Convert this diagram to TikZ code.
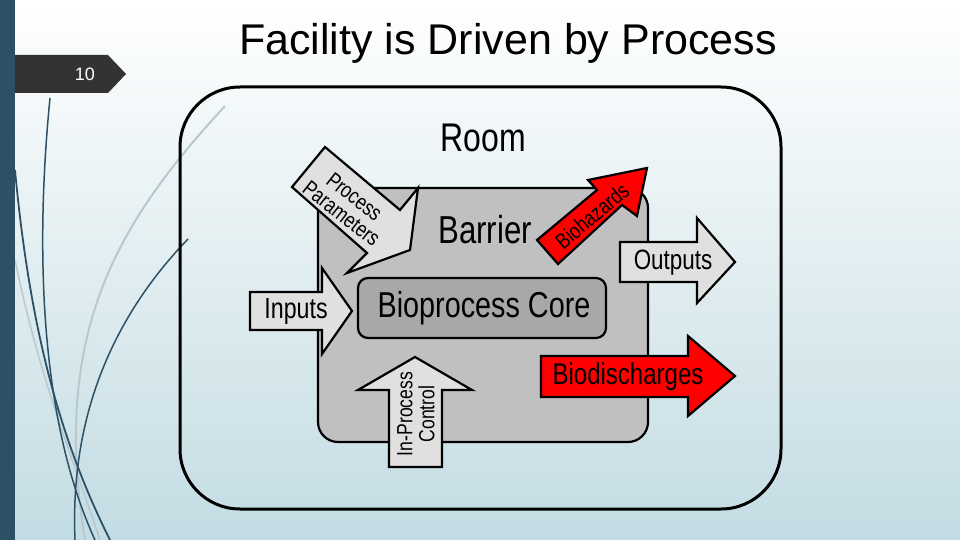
\documentclass[tikz,border=0pt]{standalone}
\usepackage{fontspec}
\setmainfont{Liberation Sans}
\newfontfamily\cond{Liberation Sans}[FakeStretch=0.8]
\begin{document}
\begin{tikzpicture}[x=1pt,y=-1pt,
  ol/.style={draw=black,line width=2.2pt,line join=miter},
  lbl/.style={inner sep=0pt,text=black},
]
\definecolor{bgtop}{HTML}{FFFFFF}
\definecolor{bgbot}{HTML}{C3DCE3}
\definecolor{barC}{HTML}{2C5166}
\definecolor{tabC}{HTML}{333333}
\definecolor{barrierC}{HTML}{C0C0C0}
\definecolor{coreC}{HTML}{A8A8A8}
\definecolor{lightA}{HTML}{E0E0E0}
\definecolor{redA}{HTML}{FF0000}
\definecolor{curveD}{HTML}{2C5166}
\definecolor{curveL}{HTML}{B8C8CC}
\useasboundingbox (0,0) rectangle (960,540);
\shade[top color=bgtop,bottom color=bgbot] (0,0) rectangle (960,540);
% decorative curves
\draw[curveL,line width=2pt] (225,106) .. controls (120,220) and (50,330) .. (85,540);
\draw[curveL,line width=1.5pt] (15,260) .. controls (40,380) and (70,450) .. (100,540);
\draw[curveD,line width=1.5pt] (50,98) .. controls (35,250) and (40,420) .. (95,540);
\draw[curveD,line width=1.8pt] (15,170) .. controls (30,330) and (60,440) .. (110,540);
\draw[curveD,line width=1.5pt] (188,239) .. controls (110,320) and (70,420) .. (75,540);
\fill[barC] (0,0) rectangle (15,540);
\fill[tabC] (15,55) -- (108,55) -- (126,74) -- (108,93) -- (15,93) -- cycle;
\node[lbl,text=white,font=\fontsize{18}{20}\selectfont] (num) at (85,74) {10};
\node[lbl,font=\fontsize{43}{46}\selectfont] (title) at (508,43) {Facility is Driven by Process};
% room
\draw[line width=3pt,rounded corners=60pt] (180,87) rectangle (781,509);
\node[lbl,font=\cond\fontsize{40}{42}\selectfont] (room) at (483,138) {Room};
% barrier
\draw[ol,fill=barrierC,rounded corners=20pt] (318,188) rectangle (648,442);
\node[lbl,font=\cond\fontsize{39}{42}\selectfont] (barrier) at (485,230) {Barrier};
% core
\draw[ol,fill=coreC,rounded corners=10pt] (358,278) rectangle (606,338);
\node[lbl,font=\cond\fontsize{36}{38}\selectfont] (core) at (484,308) {Bioprocess Core};
% inputs
\draw[ol,fill=lightA] (250,292) -- (322,292) -- (322,268) -- (352,311) -- (322,354) -- (322,330) -- (250,330) -- cycle;
\node[lbl,font=\cond\fontsize{29}{30}\selectfont] (inputs) at (296,312) {Inputs};
% outputs
\draw[ol,fill=lightA] (620,242) -- (697,242) -- (697,218) -- (735,262) -- (697,303) -- (697,282) -- (620,282) -- cycle;
\node[lbl,font=\cond\fontsize{28}{30}\selectfont] (outputs) at (673,263) {Outputs};
% biodischarges
\draw[ol,fill=redA] (541,356) -- (688,356) -- (688,336) -- (735,376) -- (688,416) -- (688,397) -- (541,397) -- cycle;
\node[lbl,font=\cond\fontsize{30}{32}\selectfont] (biodis) at (628,377) {Biodischarges};
% in-process control
\draw[ol,fill=lightA] (389,467) -- (389,390) -- (358,390) -- (415,357) -- (472,390) -- (442,390) -- (442,467) -- cycle;
\node[lbl,rotate=90,align=center,font=\cond\fontsize{22}{22}\selectfont] (ipc) at (416,414) {In-Process\\Control};
% process parameters
\draw[ol,fill=lightA] (325,147) -- (400,210) -- (418,188) -- (410,250) -- (347,273) -- (367,253) -- (292,187) -- cycle;
\node[lbl,rotate=-38,align=center,font=\cond\fontsize{22}{21}\selectfont] (pp) at (348,205) {Process\\Parameters};
% biohazards
\draw[ol,fill=redA] (537,240) -- (597,190) -- (588,180) -- (647,168) -- (637,216) -- (622,205) -- (558,264) -- cycle;
\node[lbl,rotate=40,font=\cond\fontsize{22}{22}\selectfont] (bioh) at (592,216) {Biohazards};
\end{tikzpicture}
\end{document}
